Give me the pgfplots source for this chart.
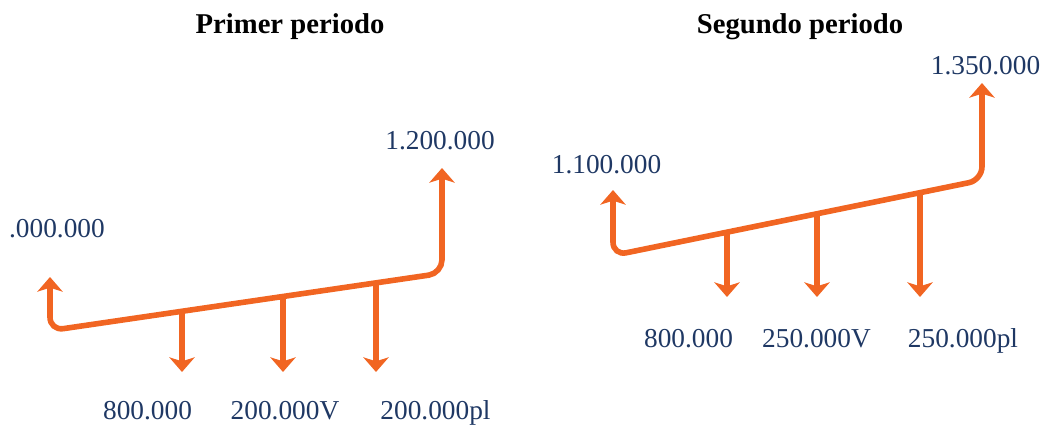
\documentclass[border=0pt]{standalone}
\usepackage{fontspec}
\setmainfont{Liberation Serif}
\usepackage{pgfplots}
\pgfplotsset{compat=1.18}
\usetikzlibrary{arrows.meta}

\definecolor{flujo}{RGB}{241,101,34}
\definecolor{texto}{RGB}{31,56,100}

\begin{document}
\begin{tikzpicture}[
    flecha/.style={-{Stealth[length=11pt,width=19pt,inset=3pt]}},
    doble/.style={{Stealth[length=11pt,width=19pt,inset=3pt]}-{Stealth[length=11pt,width=19pt,inset=3pt]},
      rounded corners=10pt},
    lbl/.style={anchor=base,text=texto,font=\fontsize{20.5}{24}\selectfont},
    tit/.style={anchor=base,text=black,font=\bfseries\fontsize{21.5}{26}\selectfont},
]
\begin{axis}[
    hide axis,
    scale only axis,
    width=782.25pt,
    height=318.75pt,
    xmin=0, xmax=1043,
    ymin=0, ymax=425,
    y dir=reverse,
    clip=false,
    % estilo comun de las flechas
    every axis plot/.append style={
      color=flujo,
      line width=4.2pt,
    },
]

  % Primer periodo
  \addplot[doble] coordinates {(50,277) (50,330.6) (442,273.2) (442,168)};
  \addplot[flecha] coordinates {(182,311.3) (182,372)};
  \addplot[flecha] coordinates {(283,296.5) (283,372)};
  \addplot[flecha] coordinates {(376,282.9) (376,372)};

  % Segundo periodo
  \addplot[doble] coordinates {(613,190) (613,255.5) (982,180) (982,83)};
  \addplot[flecha] coordinates {(727,232) (727,297)};
  \addplot[flecha] coordinates {(817,213.5) (817,297)};
  \addplot[flecha] coordinates {(920,192.6) (920,297)};

  \node[tit] at (axis cs:290,33) {Primer periodo};
  \node[tit] at (axis cs:800,33) {Segundo periodo};

  \node[lbl] at (axis cs:57,237) {.000.000};
  \node[lbl] at (axis cs:440,149) {1.200.000};
  \node[lbl] at (axis cs:147.5,419) {800.000};
  \node[lbl] at (axis cs:285,419) {200.000V};
  \node[lbl] at (axis cs:435.5,419) {200.000pl};

  \node[lbl] at (axis cs:606.5,173) {1.100.000};
  \node[lbl] at (axis cs:985.5,74) {1.350.000};
  \node[lbl] at (axis cs:688.5,347) {800.000};
  \node[lbl] at (axis cs:816.5,347) {250.000V};
  \node[lbl] at (axis cs:963,347) {250.000pl};

\end{axis}
\pgfresetboundingbox
\useasboundingbox (current axis.south west) rectangle (current axis.north east);
\end{tikzpicture}
\end{document}
